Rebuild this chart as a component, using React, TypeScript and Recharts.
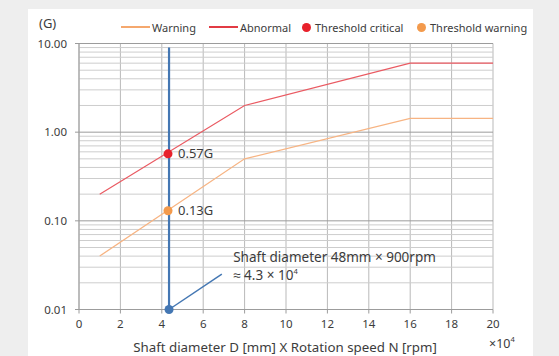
import { ComposedChart, Line, Scatter, XAxis, YAxis, CartesianGrid, ReferenceLine, ReferenceDot, Label } from 'recharts';

const FONT = '"Noto Sans", sans-serif';
const TEXT = '#3c3c3c';

// axes
const xTicks = [0, 2, 4, 6, 8, 10, 12, 14, 16, 18, 20];
const yTicks = [0.01, 0.1, 1, 10];
const yMinor = [
    0.02, 0.03, 0.04, 0.05, 0.06, 0.07, 0.08, 0.09,
    0.2, 0.3, 0.4, 0.5, 0.6, 0.7, 0.8, 0.9,
    2, 3, 4, 5, 6, 7, 8, 9,
];

// threshold curves (x in 10^4)
const curveX = [1, 8, 16, 20];
const warningG = [0.04, 0.5, 1.43, 1.43];
const abnormalG = [0.2, 2, 6, 6];

// 48mm x 900rpm marker
const markerX = [4.35, 4.35];
const markerG = [0.01, 9];
const calloutX = [4.35, 6.9];
const calloutG = [0.01, 0.025];

const criticalX = [4.3];
const criticalG = [0.57];
const thresholdWarnX = [4.3];
const thresholdWarnG = [0.13];

const zip = (xs: number[], ys: number[]) => xs.map((x, i) => ({ x, y: ys[i] }));

const warningData = zip(curveX, warningG);
const abnormalData = zip(curveX, abnormalG);
const markerData = zip(markerX, markerG);
const calloutData = zip(calloutX, calloutG);
const criticalData = zip(criticalX, criticalG);
const thresholdWarnData = zip(thresholdWarnX, thresholdWarnG);
const baseDot = zip([markerX[0]], [markerG[0]]);

const dot = (color: string) => (p: any) => <circle cx={p.cx} cy={p.cy} r={4.5} fill={color} />;

function Callout({ viewBox }: any) {
    const x = viewBox.x;
    const y = viewBox.y;
    return (
        <text x={x} fontFamily={FONT} fontSize={13.5} fill={TEXT}>
            <tspan x={x} y={y}>Shaft diameter 48mm × 900rpm</tspan>
            <tspan x={x} y={y + 18}>≈ 4.3 × 10</tspan>
            <tspan fontSize={7.5} dy={-6}>4</tspan>
        </text>
    );
}

const legendItems = [
    { label: 'Warning', color: '#f5a86e', kind: 'line', left: 121 },
    { label: 'Abnormal', color: '#e23b44', kind: 'line', left: 209 },
    { label: 'Threshold critical', color: '#e8212b', kind: 'dot', left: 302 },
    { label: 'Threshold warning', color: '#f39a4c', kind: 'dot', left: 417 },
];

export default function App() {
    return (
        <div style={{ position: 'absolute', left: 0, top: 0, width: 559, height: 356, background: '#eeeeee', fontFamily: FONT }}>
            <div style={{ position: 'absolute', left: 28, top: 9, width: 505, height: 347, background: '#ffffff' }} />
            {legendItems.map(item => (
                <div key={item.label} style={{ position: 'absolute', left: item.left, top: 18, height: 18, display: 'flex', alignItems: 'center', fontSize: 11, color: TEXT, whiteSpace: 'nowrap' }}>
                    {item.kind === 'line'
                        ? <span style={{ display: 'inline-block', width: 29, height: 1.2, background: item.color, marginRight: 2 }} />
                        : <span style={{ display: 'inline-block', width: 9, height: 9, borderRadius: '50%', background: item.color, marginRight: 4 }} />}
                    {item.label}
                </div>
            ))}
            <ComposedChart
                width={559}
                height={356}
                margin={{ top: 43.5, right: 66, bottom: 16.5, left: 29 }}
                style={{ position: 'absolute', left: 0, top: 0 }}
            >
                <CartesianGrid horizontal={false} stroke="#b9b9b9" />
                {yMinor.map(v => (
                    <ReferenceLine key={v} y={v} stroke="#cdcdcd" strokeWidth={1} />
                ))}
                {yTicks.map(v => (
                    <ReferenceLine key={v} y={v} stroke="#9c9c9c" strokeWidth={1} />
                ))}
                <XAxis
                    dataKey="x"
                    type="number"
                    domain={[0, 20]}
                    ticks={xTicks}
                    height={30}
                    stroke="#9c9c9c"
                    tickSize={4}
                    tickMargin={6}
                    tick={{ fontSize: 11.5, fill: TEXT, fontFamily: FONT }}
                >
                    <Label
                        content={() => (
                            <g fontFamily={FONT} fill={TEXT}>
                                <text x={285} y={352} fontSize={13.3} textAnchor="middle">Shaft diameter D [mm] X Rotation speed N [rpm]</text>
                                <text x={489} y={348} fontSize={12.5}>
                                    ×10<tspan fontSize={7.5} dy={-6}>4</tspan>
                                </text>
                            </g>
                        )}
                    />
                </XAxis>
                <YAxis
                    dataKey="y"
                    type="number"
                    scale="log"
                    domain={[0.01, 10]}
                    ticks={yTicks}
                    width={50}
                    stroke="#9c9c9c"
                    tickSize={4}
                    tickMargin={8}
                    tickFormatter={(v: number) => v.toFixed(2)}
                    tick={{ fontSize: 11.5, fill: TEXT, fontFamily: FONT }}
                >
                    <Label
                        content={() => (
                            <text x={39} y={28} fontSize={13} fill={TEXT} fontFamily={FONT}>(G)</text>
                        )}
                    />
                </YAxis>
                <Line data={warningData} dataKey="y" stroke="#f7b483" strokeWidth={1.2} dot={false} activeDot={false} isAnimationActive={false} />
                <Line data={abnormalData} dataKey="y" stroke="#ea5a62" strokeWidth={1.2} dot={false} activeDot={false} isAnimationActive={false} />
                <Line data={markerData} dataKey="y" stroke="#4477b3" strokeWidth={2.2} dot={false} activeDot={false} isAnimationActive={false} />
                <Line data={calloutData} dataKey="y" stroke="#4477b3" strokeWidth={1.5} dot={false} activeDot={false} isAnimationActive={false} />
                <Scatter data={baseDot} dataKey="y" shape={dot('#4477b3')} isAnimationActive={false} />
                <Scatter data={criticalData} dataKey="y" shape={dot('#e8212b')} isAnimationActive={false} />
                <Scatter data={thresholdWarnData} dataKey="y" shape={dot('#f39a4c')} isAnimationActive={false} />
                <ReferenceDot x={criticalX[0]} y={criticalG[0]} r={0} stroke="none">
                    <Label value="0.57G" position="right" offset={10} fontSize={13} fill={TEXT} fontFamily={FONT} />
                </ReferenceDot>
                <ReferenceDot x={thresholdWarnX[0]} y={thresholdWarnG[0]} r={0} stroke="none">
                    <Label value="0.13G" position="right" offset={10} fontSize={13} fill={TEXT} fontFamily={FONT} />
                </ReferenceDot>
                <ReferenceDot x={7.45} y={0.034} r={0} stroke="none">
                    <Label content={Callout} />
                </ReferenceDot>
            </ComposedChart>
        </div>
    );
}
